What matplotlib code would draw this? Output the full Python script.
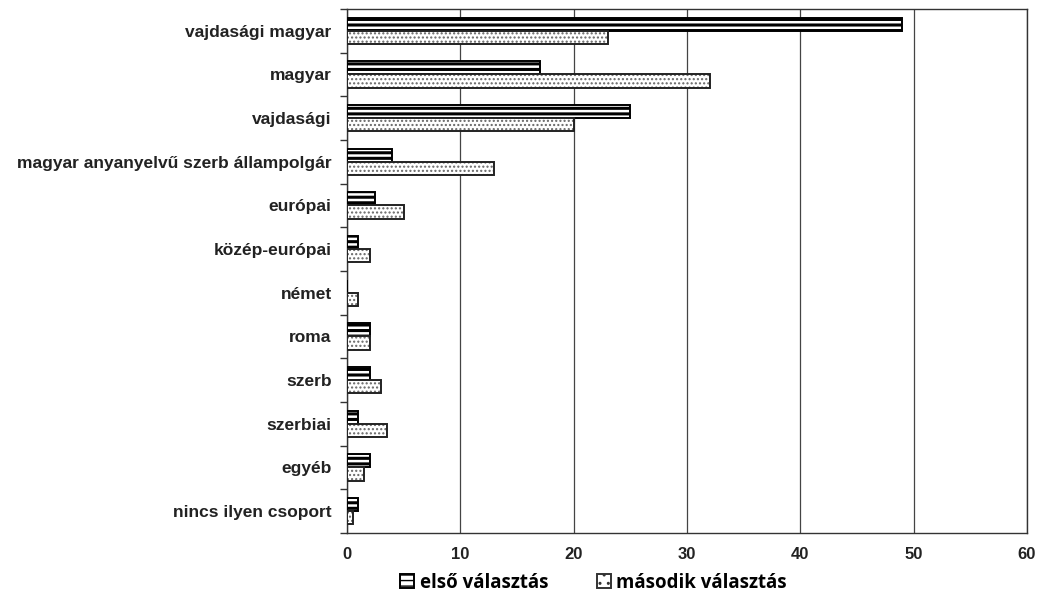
import matplotlib
matplotlib.use("Agg")
import matplotlib.pyplot as plt
from matplotlib.patches import Patch
import numpy as np

categories = ["vajdasági magyar", "magyar", "vajdasági",
              "magyar anyanyelvű szerb állampolgár", "európai",
              "közép-európai", "német", "roma", "szerb", "szerbiai",
              "egyéb", "nincs ilyen csoport"]
elso = [49, 17, 25, 4, 2.5, 1, 0, 2, 2, 1, 2, 1]
masodik = [23, 32, 20, 13, 5, 2, 1, 2, 3, 3.5, 1.5, 0.5]
series_labels = ["első választás", "második választás"]

fig = plt.figure(figsize=(10.37, 5.95), dpi=100)
ax = fig.add_axes([0.3346, 0.1042, 0.6558, 0.8807])

y = np.arange(len(categories))
h = 0.3

# first choice: thick horizontal stripes
with plt.rc_context({"hatch.linewidth": 2.2}):
    ax.barh(y - h / 2, elso, height=h, color="white", edgecolor="black",
            hatch="---", linewidth=1.4, zorder=3)
    stripe_patch = Patch(facecolor="white", edgecolor="black", hatch="---",
                         linewidth=1.4)
# second choice: fine grey dots, then a dark outline on top
with plt.rc_context({"hatch.linewidth": 1.0}):
    ax.barh(y + h / 2, masodik, height=h, color="white", edgecolor="#666666",
            hatch="....", linewidth=0, zorder=3)
    dot_patch = Patch(facecolor="white", edgecolor="#333333", hatch="..",
                      linewidth=1.4)
ax.barh(y + h / 2, masodik, height=h, fill=False, edgecolor="#222222",
        linewidth=1.4, zorder=4)

ax.set_xlim(0, 60)
ax.set_ylim(len(categories) - 0.5, -0.5)
ax.set_xticks(range(0, 61, 10))
ax.set_yticks(y)
ax.set_yticklabels(categories, fontsize=12.5, fontweight="bold",
                   family="Liberation Sans", color="#222222")
ax.set_yticks(np.arange(-0.5, len(categories)), minor=True)
ax.tick_params(axis="y", which="major", length=0, pad=11)
ax.tick_params(axis="y", which="minor", length=5, width=1, color="#333333")
ax.tick_params(axis="x", length=0, pad=10)
for lab in ax.get_xticklabels():
    lab.set_fontweight("bold")
    lab.set_family("Liberation Sans")
    lab.set_fontsize(12)
    lab.set_color("#222222")

ax.grid(axis="x", color="#444444", linewidth=0.9, zorder=0)
for s in ax.spines.values():
    s.set_color("#333333")
    s.set_linewidth(1.0)

fig.legend([stripe_patch, dot_patch], series_labels, loc="lower center",
           bbox_to_anchor=(0.5725, -0.024), ncol=2, frameon=False,
           handlelength=0.75, handleheight=0.75, handletextpad=0.3,
           columnspacing=2.6,
           prop={"family": "Open Sans", "weight": "bold", "size": 13.4})

fig.savefig("out.png", dpi=100)
